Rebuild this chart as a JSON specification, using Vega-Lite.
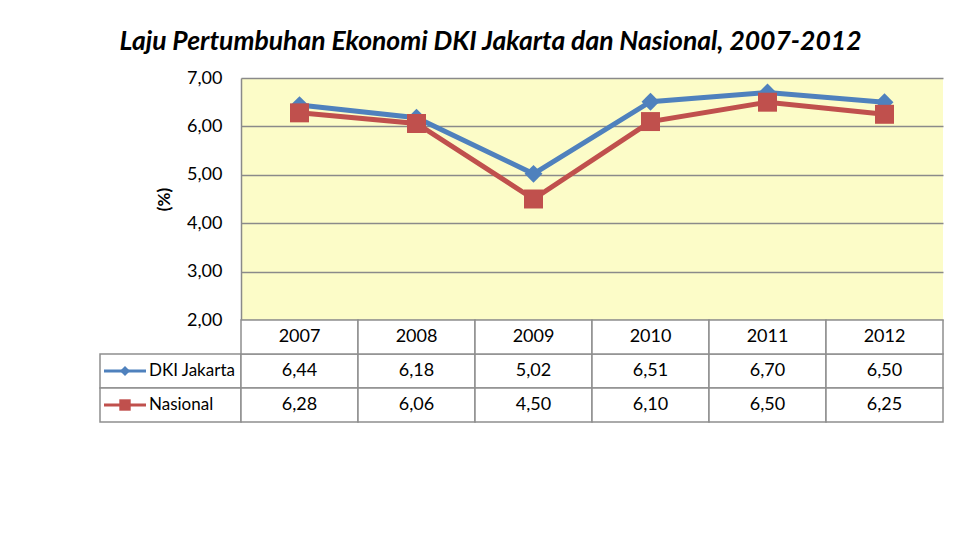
{
  "$schema": "https://vega.github.io/schema/vega-lite/v6.json",
  "padding": {"left": 99, "top": 28, "right": 10, "bottom": 10},
  "background": "white",
  "title": {
    "text": "Laju Pertumbuhan Ekonomi DKI Jakarta dan Nasional, 2007-2012",
    "font": "Lato",
    "fontSize": 26.5,
    "fontWeight": "bold",
    "fontStyle": "italic",
    "color": "#000000",
    "anchor": "middle",
    "dx": -31,
    "offset": 14
  },
  "config": {
    "locale": {"number": {"decimal": ",", "thousands": ".", "grouping": [3], "currency": ["", ""]}},
    "view": {"stroke": null},
    "font": "Lato",
    "text": {"font": "Lato", "fontSize": 18, "color": "#000000"}
  },
  "datasets": {
    "main": [
      {"year": "2007", "series": "DKI Jakarta", "value": 6.44},
      {"year": "2008", "series": "DKI Jakarta", "value": 6.18},
      {"year": "2009", "series": "DKI Jakarta", "value": 5.02},
      {"year": "2010", "series": "DKI Jakarta", "value": 6.51},
      {"year": "2011", "series": "DKI Jakarta", "value": 6.70},
      {"year": "2012", "series": "DKI Jakarta", "value": 6.50},
      {"year": "2007", "series": "Nasional", "value": 6.28},
      {"year": "2008", "series": "Nasional", "value": 6.06},
      {"year": "2009", "series": "Nasional", "value": 4.50},
      {"year": "2010", "series": "Nasional", "value": 6.10},
      {"year": "2011", "series": "Nasional", "value": 6.50},
      {"year": "2012", "series": "Nasional", "value": 6.25}
    ]
  },
  "data": {"name": "main"},
  "columns": 2,
  "spacing": 0,
  "bounds": "flush",
  "resolve": {"scale": {"x": "independent", "y": "independent", "color": "independent", "shape": "independent", "size": "independent"}},
  "concat": [
    {
      "width": 141,
      "height": 242,
      "mark": {"type": "text", "text": ""},
      "transform": [{"filter": "false"}],
      "encoding": {}
    },
    {
      "width": 702,
      "height": 242,
      "view": {"fill": "#FCFCC8", "stroke": null},
      "encoding": {
        "x": {"field": "year", "type": "nominal", "scale": {"type": "band", "paddingInner": 0, "paddingOuter": 0}, "axis": null},
        "y": {
          "field": "value", "type": "quantitative",
          "scale": {"domain": [2, 7], "nice": false, "zero": false},
          "axis": {
            "values": [2, 3, 4, 5, 6, 7],
            "format": ".2f",
            "grid": true,
            "gridColor": "#8a8a8a",
            "gridWidth": 1.3,
            "domain": true,
            "domainColor": "#8a8a8a",
            "domainWidth": 1.5,
            "ticks": false,
            "labelPadding": 19,
            "labelFont": "Lato",
            "labelFontSize": 18,
            "labelColor": "#000000",
            "title": "(%)",
            "titleFont": "Lato",
            "titleFontSize": 17,
            "titleFontWeight": "bold",
            "titleColor": "#000000",
            "titlePadding": 13
          }
        },
        "color": {"field": "series", "type": "nominal", "scale": {"domain": ["DKI Jakarta", "Nasional"], "range": ["#4F81BD", "#C0504D"]}, "legend": null}
      },
      "layer": [
        {"mark": {"type": "line", "strokeWidth": 5}},
        {
          "mark": {"type": "point", "filled": true, "opacity": 1},
          "encoding": {
            "shape": {"field": "series", "type": "nominal", "scale": {"domain": ["DKI Jakarta", "Nasional"], "range": ["diamond", "square"]}, "legend": null},
            "size": {"field": "series", "type": "nominal", "scale": {"domain": ["DKI Jakarta", "Nasional"], "range": [320, 360]}, "legend": null}
          }
        }
      ]
    },
    {
      "width": 141,
      "height": 102,
      "transform": [{"filter": "datum.year == '2007'"}],
      "encoding": {
        "y": {"field": "series", "type": "nominal", "scale": {"type": "band", "domain": ["header", "DKI Jakarta", "Nasional"], "paddingInner": 0, "paddingOuter": 0}, "axis": null}
      },
      "layer": [
        {"mark": {"type": "rect", "fill": "white", "stroke": "#8f8f8f", "strokeWidth": 1.5}, "encoding": {"x": {"value": 0}, "x2": {"value": 141}}},
        {
          "mark": {"type": "rule", "strokeWidth": 3},
          "encoding": {
            "x": {"value": 4}, "x2": {"value": 46},
            "color": {"field": "series", "type": "nominal", "scale": {"domain": ["DKI Jakarta", "Nasional"], "range": ["#4F81BD", "#C0504D"]}, "legend": null}
          }
        },
        {
          "mark": {"type": "point", "filled": true, "opacity": 1},
          "encoding": {
            "x": {"value": 25},
            "color": {"field": "series", "type": "nominal", "scale": {"domain": ["DKI Jakarta", "Nasional"], "range": ["#4F81BD", "#C0504D"]}, "legend": null},
            "shape": {"field": "series", "type": "nominal", "scale": {"domain": ["DKI Jakarta", "Nasional"], "range": ["diamond", "square"]}, "legend": null},
            "size": {"field": "series", "type": "nominal", "scale": {"domain": ["DKI Jakarta", "Nasional"], "range": [100, 130]}, "legend": null}
          }
        },
        {
          "mark": {"type": "text", "align": "left", "baseline": "middle", "fontSize": 17},
          "encoding": {"x": {"value": 49}, "text": {"field": "series"}}
        }
      ]
    },
    {
      "width": 702,
      "height": 102,
      "encoding": {
        "x": {"field": "year", "type": "nominal", "scale": {"type": "band", "paddingInner": 0, "paddingOuter": 0}, "axis": null}
      },
      "layer": [
        {
          "mark": {"type": "rect", "fill": "white", "stroke": "#8f8f8f", "strokeWidth": 1.5},
          "encoding": {
            "y": {"field": "series", "type": "nominal", "scale": {"type": "band", "domain": ["header", "DKI Jakarta", "Nasional"], "paddingInner": 0, "paddingOuter": 0}, "axis": null}
          }
        },
        {
          "transform": [{"filter": "datum.series == 'DKI Jakarta'"}],
          "mark": {"type": "rect", "fill": "white", "stroke": "#8f8f8f", "strokeWidth": 1.5},
          "encoding": {"y": {"datum": "header"}}
        },
        {
          "mark": {"type": "text", "baseline": "middle", "fontSize": 18},
          "encoding": {
            "y": {"field": "series", "type": "nominal"},
            "text": {"field": "value", "type": "quantitative", "format": ".2f"}
          }
        },
        {
          "transform": [{"filter": "datum.series == 'DKI Jakarta'"}],
          "mark": {"type": "text", "baseline": "middle", "fontSize": 18},
          "encoding": {"y": {"datum": "header"}, "text": {"field": "year"}}
        }
      ]
    }
  ]
}
